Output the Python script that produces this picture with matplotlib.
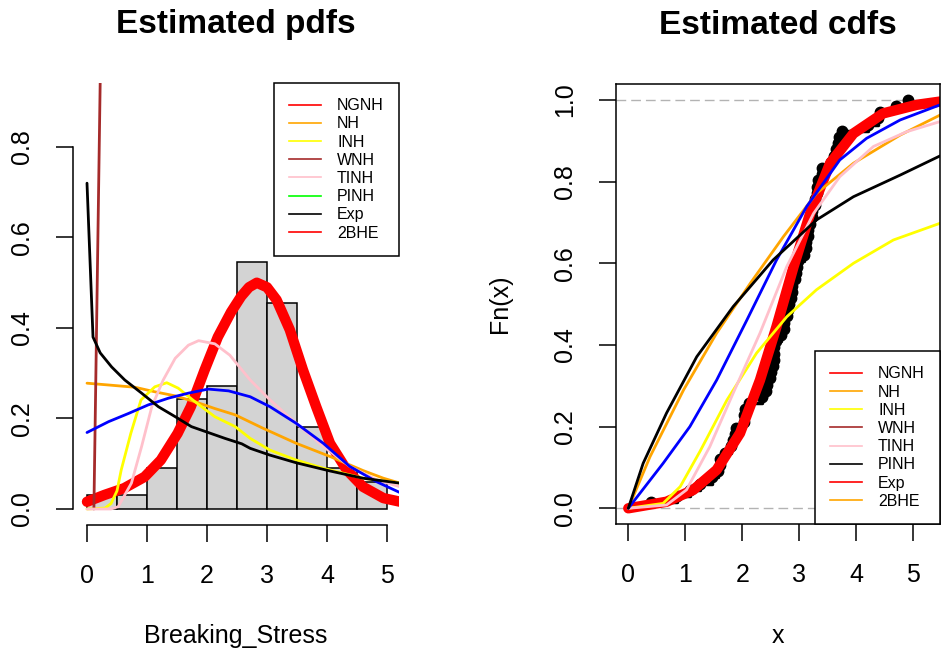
import matplotlib.pyplot as plt
from matplotlib.lines import Line2D

plt.rcParams['font.family'] = ['Liberation Sans', 'DejaVu Sans']

# Data: breaking stress of carbon fibres (n = 66)
breaking_stress = [
    0.39, 0.85, 1.08, 1.25, 1.47, 1.57, 1.61, 1.61, 1.69, 1.80, 1.84, 1.87,
    1.89, 2.03, 2.03, 2.05, 2.12, 2.35, 2.41, 2.43, 2.48, 2.50, 2.53, 2.55,
    2.55, 2.56, 2.59, 2.67, 2.73, 2.74, 2.79, 2.81, 2.82, 2.85, 2.87, 2.88,
    2.93, 2.95, 2.96, 2.97, 3.09, 3.11, 3.11, 3.15, 3.15, 3.19, 3.22, 3.22,
    3.27, 3.28, 3.31, 3.31, 3.33, 3.39, 3.39, 3.56, 3.60, 3.65, 3.68, 3.70,
    3.75, 4.20, 4.38, 4.42, 4.70, 4.90,
]

# histogram (right-closed bins, as in R)
bin_edges = [0, 0.5, 1.0, 1.5, 2.0, 2.5, 3.0, 3.5, 4.0, 4.5, 5.0]
bin_counts = [1, 1, 3, 8, 9, 18, 15, 6, 3, 2]

# estimated pdf curves
pdf_red_x = [0, 0.29, 0.62, 0.96, 1.23, 1.51, 1.73, 1.96, 2.18, 2.4, 2.57, 2.7,
             2.83, 3.0, 3.16, 3.38, 3.6, 3.82, 4.05, 4.33, 4.6, 4.94, 5.22]
pdf_red_y = [0.016, 0.031, 0.046, 0.071, 0.108, 0.167, 0.226, 0.307, 0.38, 0.435,
             0.47, 0.49, 0.5, 0.49, 0.462, 0.396, 0.307, 0.226, 0.145, 0.086,
             0.049, 0.024, 0.016]

pdf_orange_x = [0, 0.36, 0.8, 1.13, 1.47, 1.8, 2.13, 2.47, 2.94, 3.49, 4.05,
                4.6, 4.94, 5.22]
pdf_orange_y = [0.278, 0.274, 0.269, 0.259, 0.25, 0.237, 0.222, 0.208, 0.178,
                0.145, 0.116, 0.085, 0.068, 0.057]

pdf_yellow_x = [0, 0.3, 0.4, 0.5, 0.57, 0.73, 0.9, 1.13, 1.33, 1.52, 1.8, 2.13,
                2.47, 2.72, 3.05, 3.49, 3.94, 4.6, 5.22]
pdf_yellow_y = [0, 0.002, 0.012, 0.04, 0.086, 0.167, 0.241, 0.27, 0.279, 0.267,
                0.237, 0.204, 0.182, 0.156, 0.13, 0.108, 0.09, 0.068, 0.057]

pdf_brown_x = [0.115, 0.225]
pdf_brown_y = [0.0, 0.99]

pdf_pink_x = [0, 0.4, 0.52, 0.74, 0.91, 1.08, 1.27, 1.47, 1.69, 1.86, 2.13,
              2.38, 2.72, 3.05, 3.49, 3.94, 4.38, 4.83, 5.22]
pdf_pink_y = [0, 0.0, 0.005, 0.057, 0.138, 0.226, 0.285, 0.333, 0.362, 0.372,
              0.365, 0.34, 0.285, 0.241, 0.189, 0.138, 0.094, 0.064, 0.049]

pdf_blue_x = [0, 0.36, 0.69, 1.02, 1.36, 1.69, 2.02, 2.36, 2.72, 3.05, 3.49,
              3.94, 4.38, 4.83, 5.22]
pdf_blue_y = [0.169, 0.193, 0.211, 0.23, 0.245, 0.256, 0.265, 0.261, 0.248,
              0.226, 0.189, 0.145, 0.094, 0.06, 0.036]

pdf_black_x = [0, 0.1, 0.22, 0.41, 0.63, 0.91, 1.19, 1.47, 1.74, 2.02, 2.3,
               2.58, 2.72, 3.05, 3.49, 4.05, 4.6, 5.22]
pdf_black_y = [0.72, 0.38, 0.345, 0.314, 0.285, 0.256, 0.226, 0.204, 0.182,
               0.169, 0.156, 0.144, 0.134, 0.119, 0.102, 0.084, 0.068, 0.057]

# estimated cdf curves
cdf_red_x = [0, 0.67, 1.14, 1.55, 1.96, 2.31, 2.6, 2.9, 3.19, 3.54, 3.95, 4.47,
             5.06, 5.47]
cdf_red_y = [0, 0.016, 0.045, 0.094, 0.184, 0.314, 0.445, 0.592, 0.722, 0.845,
             0.918, 0.967, 0.988, 0.996]

cdf_orange_x = [0, 0.38, 0.97, 1.55, 2.14, 2.72, 3.3, 3.95, 4.77, 5.47]
cdf_orange_y = [0, 0.126, 0.29, 0.429, 0.551, 0.665, 0.771, 0.845, 0.914, 0.963]

cdf_blue_x = [0, 0.61, 1.08, 1.55, 2.08, 2.6, 3.13, 3.71, 4.18, 4.77, 5.47]
cdf_blue_y = [0, 0.11, 0.2, 0.314, 0.461, 0.608, 0.739, 0.853, 0.906, 0.951, 0.988]

cdf_pink_x = [0, 0.67, 1.02, 1.43, 1.84, 2.31, 2.78, 3.25, 3.71, 4.3, 4.88, 5.47]
cdf_pink_y = [0, 0.008, 0.045, 0.151, 0.282, 0.429, 0.592, 0.722, 0.812, 0.886,
              0.922, 0.947]

cdf_yellow_x = [0, 0.61, 0.91, 1.26, 1.73, 2.25, 2.78, 3.3, 3.95, 4.65, 5.47]
cdf_yellow_y = [0, 0.012, 0.053, 0.14, 0.265, 0.38, 0.469, 0.535, 0.6, 0.657, 0.698]

cdf_black_x = [0, 0.26, 0.67, 1.2, 1.84, 2.54, 3.3, 3.95, 4.77, 5.47]
cdf_black_y = [0, 0.11, 0.233, 0.371, 0.494, 0.608, 0.706, 0.763, 0.816, 0.863]

# legends
legend_labels = ['NGNH', 'NH', 'INH', 'WNH', 'TINH', 'PINH', 'Exp', '2BHE']
pdf_legend_colors = ['#FF0000', '#FFA500', '#FFFF00', '#A52A2A', '#FFC0CB',
                     '#00FF00', '#000000', '#FF0000']
cdf_legend_colors = ['#FF0000', '#FFA500', '#FFFF00', '#A52A2A', '#FFC0CB',
                     '#000000', '#FF0000', '#FFA500']

W, H = 942, 651
fig = plt.figure(figsize=(W / 100, H / 100), dpi=100)
ax1 = fig.add_axes([73 / W, 1 - 525 / H, 326 / W, 442 / H])
ax2 = fig.add_axes([616 / W, 1 - 524 / H, 324 / W, 440 / H])

line_kw = dict(solid_capstyle='round', solid_joinstyle='round')
legend_kw = dict(borderaxespad=0, fontsize=11.5, fancybox=False, framealpha=1,
                 edgecolor='black', handlelength=2.0, handletextpad=1.0,
                 borderpad=0.95, labelspacing=0.2)

# ---- left panel: histogram + densities
n = len(breaking_stress)
widths = [b - a for a, b in zip(bin_edges[:-1], bin_edges[1:])]
density = [c / (n * w) for c, w in zip(bin_counts, widths)]
ax1.bar(bin_edges[:-1], density, width=widths, align='edge', color='#D3D3D3',
        edgecolor='black', linewidth=1.1)

ax1.plot(pdf_red_x, pdf_red_y, color='#FF0000', lw=7.5, **line_kw)
ax1.plot(pdf_orange_x, pdf_orange_y, color='#FFA500', lw=2, **line_kw)
ax1.plot(pdf_yellow_x, pdf_yellow_y, color='#FFFF00', lw=2, **line_kw)
ax1.plot(pdf_brown_x, pdf_brown_y, color='#A52A2A', lw=2, **line_kw)
ax1.plot(pdf_pink_x, pdf_pink_y, color='#FFC0CB', lw=2, **line_kw)
ax1.plot(pdf_blue_x, pdf_blue_y, color='#0000FF', lw=2, **line_kw)
ax1.plot(pdf_black_x, pdf_black_y, color='#000000', lw=2, **line_kw)

ax1.set_xlim(-0.2333, 5.2)
ax1.set_ylim(-0.0354, 0.9414)
ax1.spines['top'].set_visible(False)
ax1.spines['right'].set_visible(False)
ax1.spines['bottom'].set_bounds(0, 5)
ax1.spines['left'].set_bounds(0, 0.8)
ax1.set_xticks([0, 1, 2, 3, 4, 5])
ax1.set_yticks([0, 0.2, 0.4, 0.6, 0.8])
ax1.set_yticklabels(['0.0', '0.2', '0.4', '0.6', '0.8'])
ax1.set_title('Estimated pdfs', fontsize=24, fontweight='bold', y=(525 - 25) / 442,
              va='center', pad=0)
ax1.set_xlabel('Breaking_Stress', fontsize=18, va='center')
ax1.xaxis.set_label_coords(0.5, (525 - 636) / 442)

h1 = [Line2D([0], [0], color=c, lw=1.2) for c in pdf_legend_colors]
leg1 = ax1.legend(h1, legend_labels, loc='upper right', bbox_to_anchor=(1, 1),
                  **legend_kw)
leg1.get_frame().set_linewidth(1.1)

# ---- right panel: ecdf + cdfs
xs = sorted(breaking_stress)
ys = [(i + 1) / n for i in range(n)]
ax2.axhline(0, color='#B3B3B3', lw=1, ls=(0, (7, 3.6)), zorder=1)
ax2.axhline(1, color='#B3B3B3', lw=1, ls=(0, (7, 3.6)), zorder=1)
ax2.step(xs, ys, where='post', color='black', lw=2.5)
ax2.plot(xs, ys, 'o', color='black', ms=7.5)

ax2.plot(cdf_red_x, cdf_red_y, color='#FF0000', lw=7.5, **line_kw)
ax2.plot(cdf_orange_x, cdf_orange_y, color='#FFA500', lw=2, **line_kw)
ax2.plot(cdf_yellow_x, cdf_yellow_y, color='#FFFF00', lw=2, **line_kw)
ax2.plot(cdf_pink_x, cdf_pink_y, color='#FFC0CB', lw=2, **line_kw)
ax2.plot(cdf_blue_x, cdf_blue_y, color='#0000FF', lw=2, **line_kw)
ax2.plot(cdf_black_x, cdf_black_y, color='#000000', lw=2, **line_kw)

ax2.set_xlim(-0.216, 5.468)
ax2.set_ylim(-0.0385, 1.039)
ax2.set_xticks([0, 1, 2, 3, 4, 5])
ax2.set_yticks([0, 0.2, 0.4, 0.6, 0.8, 1.0])
ax2.set_yticklabels(['0.0', '0.2', '0.4', '0.6', '0.8', '1.0'])
for sp in ax2.spines.values():
    sp.set_linewidth(1.1)
ax2.set_title('Estimated cdfs', fontsize=24, fontweight='bold', y=(524 - 25) / 440,
              va='center', pad=0)
ax2.set_xlabel('x', fontsize=18, va='center')
ax2.xaxis.set_label_coords(0.5, (524 - 636) / 440)
ax2.set_ylabel('Fn(x)', fontsize=18, va='center', ha='center')
ax2.yaxis.set_label_coords((500 - 616) / 324, 0.5)

h2 = [Line2D([0], [0], color=c, lw=1.2) for c in cdf_legend_colors]
leg2 = ax2.legend(h2, legend_labels, loc='lower right', bbox_to_anchor=(1, 0),
                  **legend_kw)
leg2.get_frame().set_linewidth(1.1)

for ax in (ax1, ax2):
    ax.tick_params(length=12, width=1.1, pad=16, labelsize=18)
    ax.tick_params(axis='y', labelrotation=90)
    for lab in ax.get_yticklabels():
        lab.set_va('center')
for sp in ax1.spines.values():
    sp.set_linewidth(1.1)

fig.savefig('out.png', dpi=100)
